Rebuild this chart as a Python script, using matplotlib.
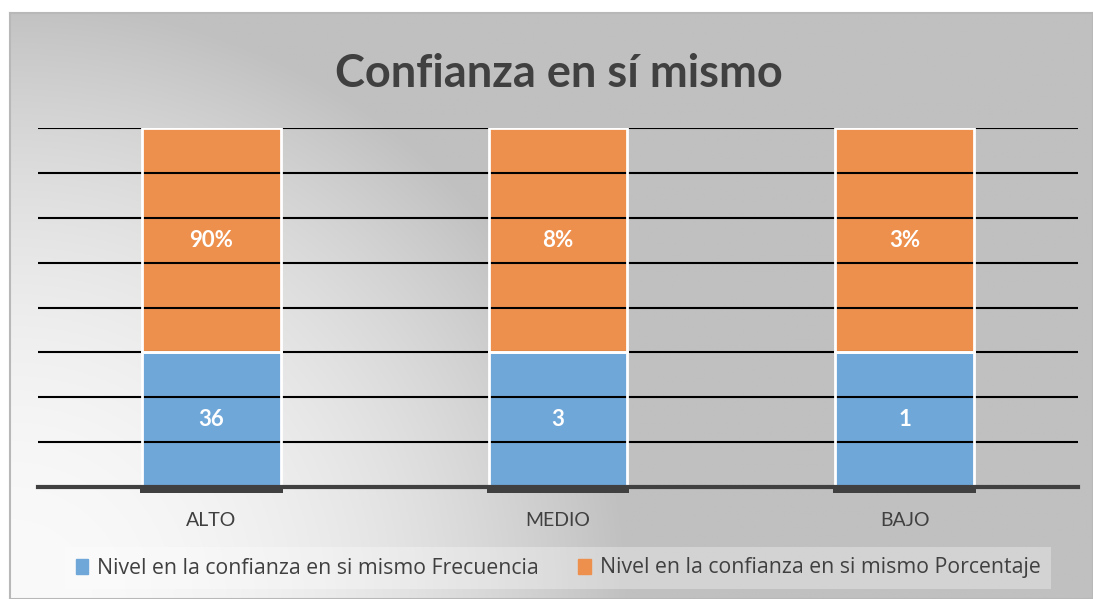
import numpy as np
import matplotlib.pyplot as plt

# Datos
categorias = ['ALTO', 'MEDIO', 'BAJO']
frecuencia = [36, 3, 1]
porcentaje = ['90%', '8%', '3%']
# altura de cada tramo en divisiones de la cuadrícula (se lee del gráfico)
tramo_frecuencia = [3, 3, 3]
tramo_porcentaje = [5, 5, 5]

azul = '#70a7d9'
naranja = '#ee904d'
gris_texto = '#404040'
fuente = 'Lato'

W, H = 1093, 599
fig = plt.figure(figsize=(W / 100, H / 100), dpi=100)

# Fondo con degradado radial desde la esquina inferior izquierda
bg = fig.add_axes([10 / W, 0, 1 - 10 / W, 1 - 13 / H])
xx, yy = np.meshgrid(np.linspace(0, 1083, 500), np.linspace(0, 586, 300))
t = np.clip(np.sqrt((xx / 620) ** 2 + (yy / 600) ** 2), 0, 1) ** 2
val = 250 - t * (250 - 192)
bg.imshow(np.dstack([val, val, val]) / 255, origin='lower', aspect='auto',
          extent=[0, 1, 0, 1])
bg.set_xticks([])
bg.set_yticks([])
for s in bg.spines.values():
    s.set_color('#b8b8b8')
    s.set_linewidth(1.5)

# Gráfico principal
ax = fig.add_axes([38 / W, 112 / H, 1040 / W, 359 / H])
ax.patch.set_alpha(0)
x = np.arange(len(categorias))
ancho = 0.4

ax.bar(x, tramo_frecuencia, width=ancho, color=azul, zorder=1)
ax.bar(x, tramo_porcentaje, width=ancho, bottom=tramo_frecuencia, color=naranja, zorder=1)

# cuadrícula por encima de las barras
ax.set_yticks(np.arange(0, 9))
ax.yaxis.grid(True, color='black', linewidth=1.5)
ax.set_axisbelow(False)

# bordes blancos encima de la cuadrícula
ax.bar(x, tramo_frecuencia, width=ancho, fill=False, edgecolor='white', linewidth=2, zorder=3)
ax.bar(x, tramo_porcentaje, width=ancho, bottom=tramo_frecuencia, fill=False,
       edgecolor='white', linewidth=2, zorder=3)

# sombra oscura bajo cada barra
ax.bar(x, -0.13, width=ancho + 0.012, color=gris_texto, zorder=4, clip_on=False)

# etiquetas de datos
for i in range(len(categorias)):
    ax.text(x[i], tramo_frecuencia[i] / 2, str(frecuencia[i]), ha='center', va='center',
            color='white', fontsize=16, fontweight='bold', family=fuente, zorder=5)
    ax.text(x[i], tramo_frecuencia[i] + tramo_porcentaje[i] / 2, porcentaje[i],
            ha='center', va='center', color='white', fontsize=16, fontweight='bold',
            family=fuente, zorder=5)

ax.set_xlim(-0.5, 2.5)
ax.set_ylim(0, 8)
ax.set_xticks(x)
ax.set_xticklabels(categorias, color=gris_texto, fontsize=14, family=fuente)
ax.tick_params(axis='x', length=0, pad=18)
ax.tick_params(axis='y', length=0, labelleft=False)
for s in ['left', 'right', 'top']:
    ax.spines[s].set_visible(False)
ax.spines['bottom'].set_color(gris_texto)
ax.spines['bottom'].set_linewidth(3)
ax.spines['bottom'].set_zorder(4)

# Título
fig.text(0.511, 1 - 74 / H, 'Confianza en sí mismo', ha='center', va='center',
         fontsize=32.5, fontweight='bold', color=gris_texto, family=fuente)

# Leyenda
handles = [plt.Rectangle((0, 0), 1, 1, color=azul), plt.Rectangle((0, 0), 1, 1, color=naranja)]
etiquetas = ['Nivel en la confianza en si mismo Frecuencia',
             'Nivel en la confianza en si mismo Porcentaje']
leg = fig.legend(handles, etiquetas, loc='center', mode='expand',
                 bbox_to_anchor=(65 / W, 1 - 590 / H, 986 / W, 44 / H),
                 ncol=2, frameon=True, fancybox=False, handlelength=0.6, handleheight=0.7,
                 columnspacing=1.0, handletextpad=0.4, borderpad=0.5, borderaxespad=0,
                 prop={'family': 'Open Sans', 'size': 15.3})
leg.get_frame().set_facecolor('#ffffff')
leg.get_frame().set_alpha(0.3)
leg.get_frame().set_linewidth(0)
for txt in leg.get_texts():
    txt.set_color(gris_texto)

fig.savefig('out.png', dpi=100)
